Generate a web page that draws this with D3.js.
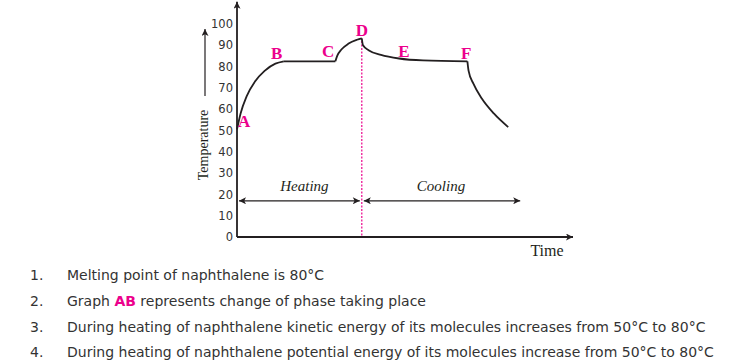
<!DOCTYPE html>
<html>
<head>
<meta charset="utf-8">
<script src="https://cdn.jsdelivr.net/npm/d3@7"></script>
<style>
  body { margin: 0; background: #fff; }
  svg { display: block; }
</style>
</head>
<body>
<svg id="chart"></svg>
<script>
// temperature ticks
const yTicks = [0, 10, 20, 30, 40, 50, 60, 70, 80, 90, 100];

// curve segments: [time, temperature]
const segAB = [[0, 50.5], [0.3, 58], [0.8, 66], [1.5, 73], [2.3, 78], [3.2, 81.4], [3.9, 82.5]];
const segBC = [[3.9, 82.5], [8.2, 82.5]];
const segCD = [[8.2, 82.5], [8.35, 85], [8.7, 88], [9.3, 90.8], [10, 92.6], [10.4, 93.3]];
const segDF = [[10.4, 93.3], [10.5, 90], [11, 87.6], [12, 85.5], [13.5, 83.8], [15.5, 82.9], [19.2, 82.5]];
const segFG = [[19.2, 82.5], [19.3, 78], [19.7, 72], [20.4, 65], [21.4, 58], [22.6, 51.6]];

// point labels
const pointNames = ["A", "B", "C", "D", "E", "F"];
const pointPos = [[0.6, 53.5], [3.3, 85.5], [7.6, 86.5], [10.4, 96.3], [13.9, 86.3], [19.1, 85.5]];

const tSplit = 10.4, tEnd = 23.6;

const notes = [
  ["1.", [["Melting point of naphthalene is 80°C", false]]],
  ["2.", [["Graph ", false], ["AB", true], [" represents change of phase taking place", false]]],
  ["3.", [["During heating of naphthalene kinetic energy of its molecules increases from 50°C to 80°C", false]]],
  ["4.", [["During heating of naphthalene potential energy of its molecules increase from 50°C to 80°C", false]]]
];

const width = 740, height = 362;
const magenta = "#ec008c", ink = "#231f20";

const svg = d3.select("#chart").attr("width", width).attr("height", height);

const x = d3.scaleLinear().domain([0, 28]).range([237, 573]);
const y = d3.scaleLinear().domain([0, 100]).range([237, 24]);

const defs = svg.append("defs");
defs.append("marker")
  .attr("id", "head")
  .attr("viewBox", "0 0 10 10")
  .attr("refX", 10).attr("refY", 5)
  .attr("markerWidth", 10).attr("markerHeight", 7)
  .attr("markerUnits", "userSpaceOnUse")
  .attr("orient", "auto-start-reverse")
  .append("path")
  .attr("d", "M0,0 L10,5 L0,10 L2.5,5 Z")
  .attr("fill", ink);

// axes
svg.append("line")
  .attr("x1", x(0)).attr("y1", y(0))
  .attr("x2", x(0)).attr("y2", y(110.5))
  .attr("stroke", ink).attr("stroke-width", 1.8)
  .attr("marker-end", "url(#head)");
svg.append("line")
  .attr("x1", x(0)).attr("y1", y(0))
  .attr("x2", x(28)).attr("y2", y(0))
  .attr("stroke", ink).attr("stroke-width", 1.8)
  .attr("marker-end", "url(#head)");

const yAxis = d3.axisLeft(y).tickValues(yTicks).tickSize(0).tickPadding(4);
const gy = svg.append("g").attr("transform", `translate(${x(0)},0)`).call(yAxis);
gy.select(".domain").remove();
gy.selectAll("text")
  .attr("font-family", "DejaVu Sans, sans-serif")
  .attr("font-size", 11.5).attr("fill", "#333");

// temperature label and its arrow
svg.append("text")
  .attr("transform", `translate(208,145) rotate(-90)`)
  .attr("text-anchor", "middle")
  .attr("font-family", "Liberation Serif, Times New Roman, serif")
  .attr("font-size", 14).attr("fill", ink)
  .text("Temperature");
svg.append("line")
  .attr("x1", 205).attr("y1", 96).attr("x2", 205).attr("y2", 29)
  .attr("stroke", ink).attr("stroke-width", 1.2)
  .attr("marker-end", "url(#head)");

svg.append("text")
  .attr("x", 547).attr("y", 256)
  .attr("text-anchor", "middle")
  .attr("font-family", "Liberation Serif, Times New Roman, serif")
  .attr("font-size", 16).attr("fill", ink)
  .text("Time");

// divider
svg.append("line")
  .attr("x1", x(tSplit)).attr("x2", x(tSplit))
  .attr("y1", y(92)).attr("y2", y(0))
  .attr("stroke", magenta).attr("stroke-width", 1.2)
  .attr("stroke-dasharray", "2,1.5");

// heating / cooling arrows
const arrowY = y(17);
svg.append("line")
  .attr("x1", x(0) + 2).attr("x2", x(tSplit) - 2)
  .attr("y1", arrowY).attr("y2", arrowY)
  .attr("stroke", ink).attr("stroke-width", 1.2)
  .attr("marker-start", "url(#head)").attr("marker-end", "url(#head)");
svg.append("line")
  .attr("x1", x(tSplit) + 2).attr("x2", x(tEnd))
  .attr("y1", arrowY).attr("y2", arrowY)
  .attr("stroke", ink).attr("stroke-width", 1.2)
  .attr("marker-start", "url(#head)").attr("marker-end", "url(#head)");

svg.append("text")
  .attr("x", x(tSplit / 2) + 5).attr("y", y(21.5))
  .attr("text-anchor", "middle")
  .attr("font-family", "Liberation Serif, Times New Roman, serif")
  .attr("font-style", "italic").attr("font-size", 15).attr("fill", ink)
  .text("Heating");
svg.append("text")
  .attr("x", x((tSplit + tEnd) / 2)).attr("y", y(21.5))
  .attr("text-anchor", "middle")
  .attr("font-family", "Liberation Serif, Times New Roman, serif")
  .attr("font-style", "italic").attr("font-size", 15).attr("fill", ink)
  .text("Cooling");

// curve
const line = d3.line().x(d => x(d[0])).y(d => y(d[1])).curve(d3.curveMonotoneX);
[segAB, segBC, segCD, segDF, segFG].forEach(seg => {
  svg.append("path")
    .attr("d", line(seg))
    .attr("fill", "none")
    .attr("stroke", ink).attr("stroke-width", 1.8)
    .attr("stroke-linejoin", "round");
});

svg.selectAll(".pt")
  .data(pointNames)
  .enter()
  .append("text")
  .attr("class", "pt")
  .attr("x", (d, i) => x(pointPos[i][0]))
  .attr("y", (d, i) => y(pointPos[i][1]))
  .attr("text-anchor", "middle")
  .attr("dominant-baseline", "middle")
  .attr("font-family", "Liberation Serif, Times New Roman, serif")
  .attr("font-weight", "bold").attr("font-size", 17)
  .attr("fill", magenta)
  .text(d => d);

// statements below the graph
const list = svg.append("g")
  .attr("font-family", "DejaVu Sans, sans-serif")
  .attr("font-size", 14).attr("fill", "#333");
notes.forEach((n, i) => {
  const yy = 280 + i * 25.8;
  list.append("text").attr("x", 30).attr("y", yy).text(n[0]);
  const t = list.append("text").attr("x", 67).attr("y", yy);
  n[1].forEach(p => {
    t.append("tspan")
      .attr("fill", p[1] ? magenta : null)
      .attr("font-weight", p[1] ? "bold" : null)
      .text(p[0]);
  });
});
</script>
</body>
</html>
